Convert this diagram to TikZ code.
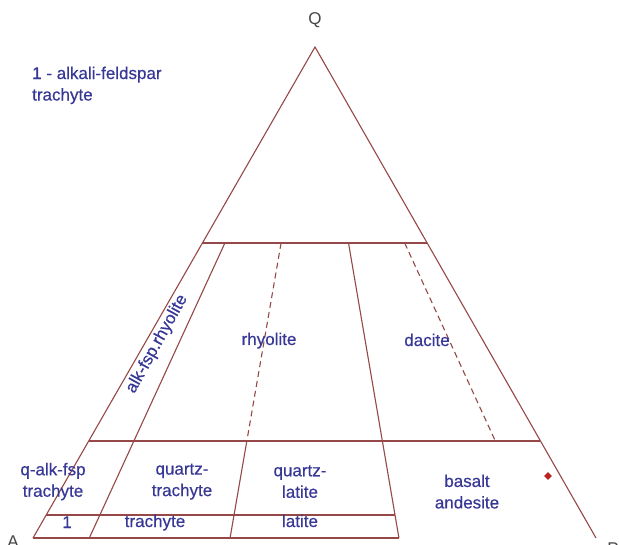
\documentclass[tikz,border=0pt]{standalone}
\usepackage{fontspec}
\setmainfont{Liberation Sans}
\newfontfamily\labfont{Liberation Sans}[FakeBold=0.4]
\usetikzlibrary{calc,shapes.geometric}
\definecolor{edgecol}{RGB}{150,72,72}
\definecolor{labcol}{RGB}{55,55,150}
\definecolor{vertcol}{RGB}{70,70,70}
\definecolor{ptcol}{RGB}{185,35,35}
\tikzset{
  field/.style={draw=edgecol,line width=1.1pt},
  fielddash/.style={draw=edgecol,line width=1.1pt,dash pattern=on 6pt off 4pt},
  lab/.style={text=labcol,inner sep=0pt,align=center,font=\labfont\fontsize{17}{21.5}\selectfont},
  vert/.style={text=vertcol,inner sep=0pt,font=\fontsize{17}{20}\selectfont},
}
\begin{document}
\begin{tikzpicture}[x=1pt,y=-1pt]
\fill[white] (0,0) rectangle (619,545);
\useasboundingbox (0,0) rectangle (619,545);
% vertices
\coordinate (Q) at (315,47);
\coordinate (A) at (33,538);
\coordinate (P) at (596,538);
% base points (fraction of A-P)
\foreach \t/\n in {0.10/10,0.35/35,0.65/65,0.90/90}{
  \coordinate (b\n) at ($(A)!\t!(P)$);
}
% level points
\coordinate (uA) at ($(Q)!0.3992!(A)$);
\coordinate (uP) at ($(Q)!0.3992!(P)$);
\coordinate (mA) at ($(Q)!0.8024!(A)$);
\coordinate (mP) at ($(Q)!0.8024!(P)$);
\coordinate (nA) at ($(Q)!0.9532!(A)$);
\foreach \n in {10,35,65,90}{
  \coordinate (u\n) at ($(Q)!0.3992!(b\n)$);
  \coordinate (m\n) at ($(Q)!0.8024!(b\n)$);
  \coordinate (n\n) at ($(Q)!0.9532!(b\n)$);
}
% triangle
\draw[field] (A) -- (Q) -- (P);
\draw[field] (A) -- (b65);
% horizontal boundaries
\draw[field] (uA) -- (uP);
\draw[field] (mA) -- (mP);
\draw[field] (nA) -- (n65);
% radial boundaries
\draw[field] (u10) -- (b10);
\draw[fielddash] (u35) -- (m35);
\draw[field] (m35) -- (b35);
\draw[field] (u65) -- (b65);
\draw[fielddash] (u90) -- (m90);
% vertex labels
\node[vert,anchor=base] (lQ) at (315,25) {Q};
\node[vert,anchor=base] (lA) at (13,547) {A};
\node[vert,anchor=base] (lP) at (613,554) {P};
% legend
\node[lab,align=left,anchor=north west] (legend) at (32,66.5) {1 - alkali-feldspar\\trachyte};
% field names
\node[lab,rotate=61] (afr) at (157,344) {alk-fsp.rhyolite};
\node[lab,anchor=base] (rhy) at (269,345) {rhyolite};
\node[lab,anchor=base] (dac) at (427,346) {dacite};
\node[lab] (qaft) at (53,481.6) {q-alk-fsp\\trachyte};
\node[lab] (qtr) at (182,481.6) {quartz-\\trachyte};
\node[lab] (qlat) at (300,481.6) {quartz-\\latite};
\node[lab] (basand) at (467,491.6) {basalt\\andesite};
\node[lab,anchor=base] (one) at (67,528) {1};
\node[lab,anchor=base] (tra) at (155,527) {trachyte};
\node[lab,anchor=base] (lat) at (300,527) {latite};
% data point
\node[diamond,fill=ptcol,inner sep=0pt,minimum size=8pt] (pt) at (548,476) {};
\end{tikzpicture}
\end{document}
